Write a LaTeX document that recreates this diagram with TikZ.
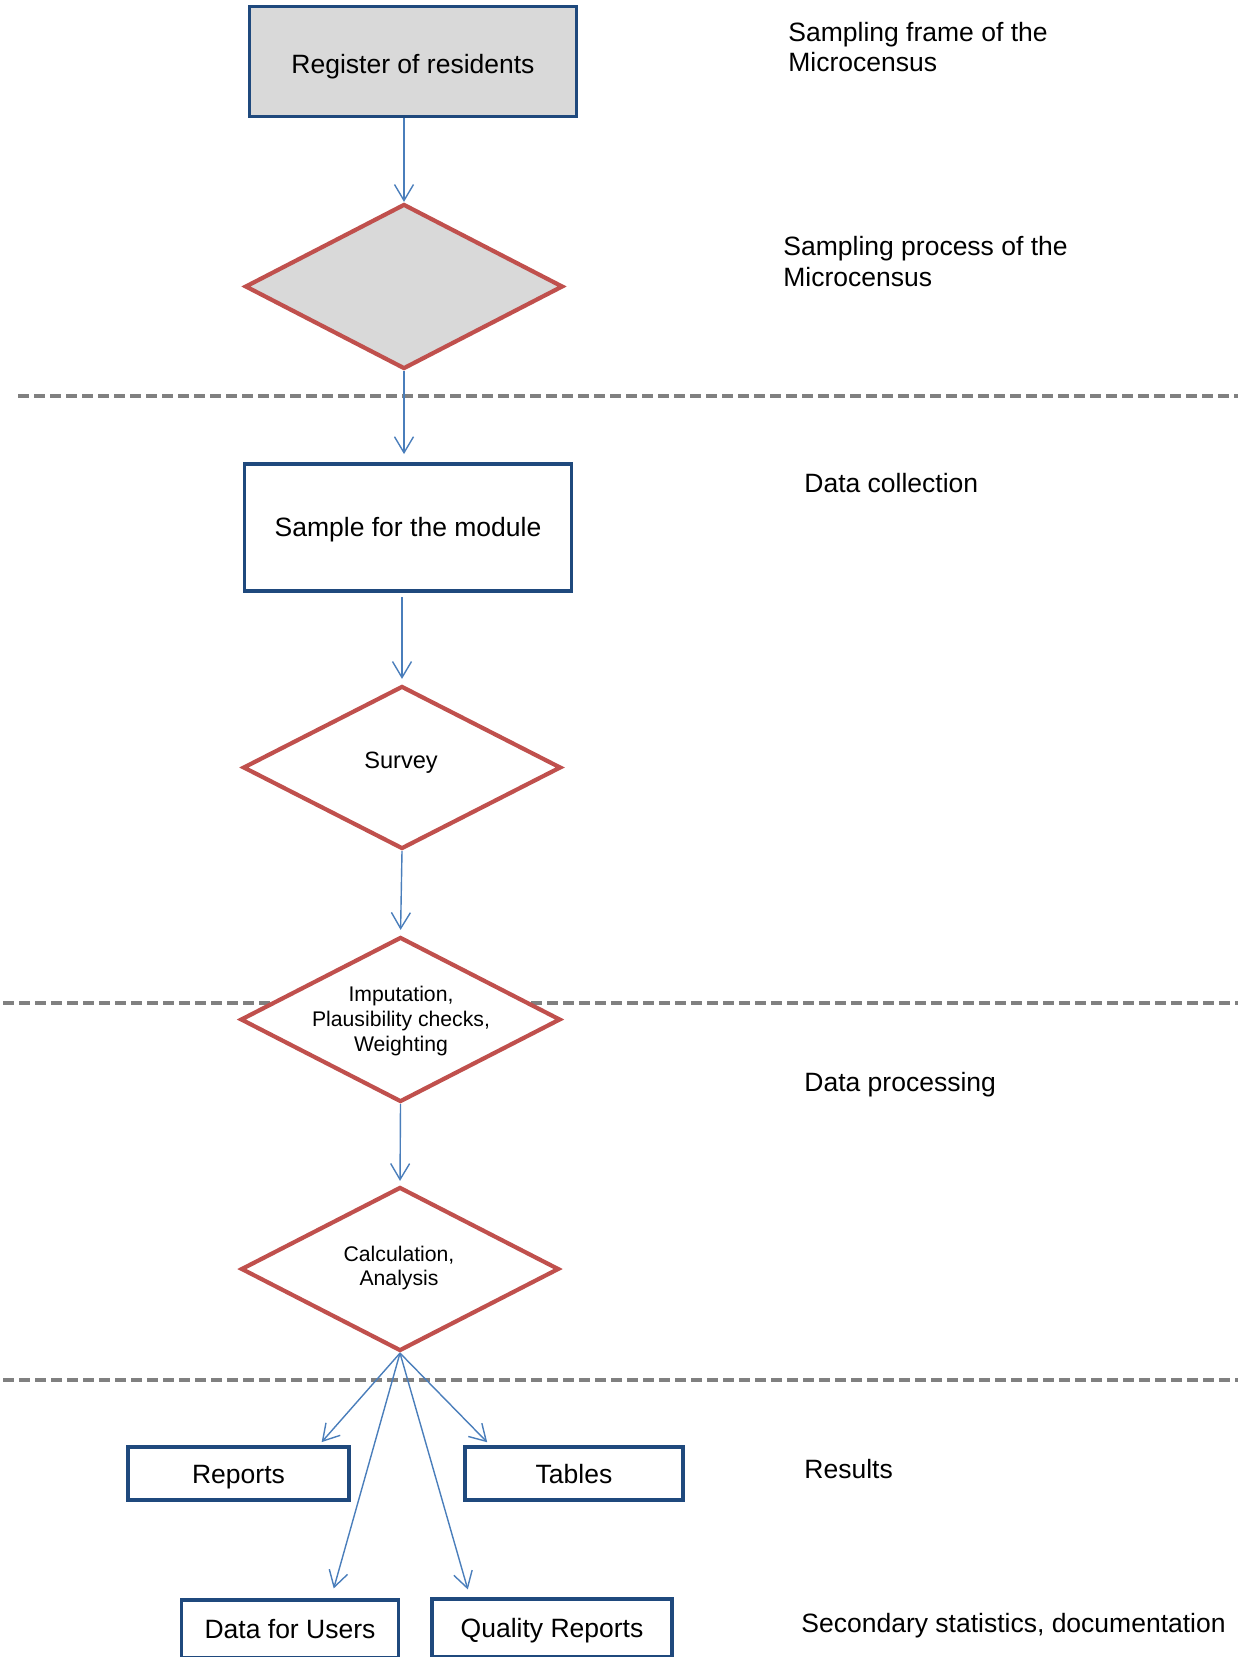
\documentclass[tikz,border=0pt]{standalone}
\usepackage{fontspec}
\setmainfont{Liberation Sans}
\usetikzlibrary{shapes.geometric,arrows.meta,calc}
\definecolor{boxblue}{HTML}{1F497D}
\definecolor{dred}{HTML}{C0504D}
\definecolor{arrblue}{HTML}{4A7EBB}
\definecolor{dgray}{HTML}{808080}
\definecolor{lgray}{HTML}{D9D9D9}
\begin{document}
\begin{tikzpicture}[x=0.5pt,y=-0.5pt,
 box/.style={draw=boxblue,line width=1.9pt,rectangle,inner sep=0pt,text height=9.5pt,text depth=0pt,font=\fontsize{13.25}{15}\selectfont},
 dia/.style={draw=dred,line width=2.1pt,diamond,inner sep=0pt,fill=white},
 arr/.style={draw=arrblue,line width=0.7pt,-{Straight Barb[length=8pt,width=9.5pt]}},
 sep/.style={draw=dgray,line width=1.7pt,dash pattern=on 5.3pt off 2.7pt},
 lbl/.style={font=\fontsize{13.25}{15.2}\selectfont,align=left,anchor=west,inner sep=0pt},
 dtxt/.style={font=\fontsize{10.6}{12.3}\selectfont,align=center,inner sep=0pt}]
\useasboundingbox (0,0) rectangle (1238,1657);
\clip (0,0) rectangle (1238,1657);
% separators
\draw[sep] (18,396) -- (1238,396);
\draw[sep] (3,1003) -- (1238,1003);
\draw[sep] (3,1380) -- (1238,1380);
% nodes
\node[box,fill=lgray,minimum width=163.5pt,minimum height=55pt,text height=12.5pt] (reg) at (413,61.5) {Register of residents};
\node[dia,fill=lgray,minimum width=159pt,minimum height=82.5pt] (d1) at (404,286.5) {};
\node[box,minimum width=163.5pt,minimum height=63.5pt] (sample) at (408,527.5) {Sample for the module};
\node[dia,minimum width=159pt,minimum height=81.5pt] (d2) at (402,767.5) {};
\node[dtxt,font=\fontsize{11.8}{13}\selectfont] (t2) at (401,763) {Survey};
\node[dia,minimum width=160pt,minimum height=82.5pt] (d3) at (400.5,1019.5) {};
\node[dtxt] (t3) at (401,1021) {Imputation,\\Plausibility checks,\\Weighting};
\node[dia,minimum width=159pt,minimum height=82pt] (d4) at (400,1269) {};
\node[dtxt] (t4) at (399,1268) {Calculation,\\Analysis};
\node[box,minimum width=110.5pt,minimum height=26.5pt] (reports) at (238.5,1473.5) {Reports};
\node[box,minimum width=109pt,minimum height=26.5pt] (tables) at (574,1473.5) {Tables};
\node[box,minimum width=108.5pt,minimum height=29pt] (dfu) at (290,1629) {Data for Users};
\node[box,minimum width=120pt,minimum height=29pt] (qr) at (552,1628) {Quality Reports};
% right labels
\node[lbl] (l1) at (788,47) {Sampling frame of the\\Microcensus};
\node[lbl] (l2) at (783,261.5) {Sampling process of the\\Microcensus};
\node[lbl] (l3) at (804,483) {Data collection};
\node[lbl] (l4) at (804,1085) {Data processing};
\node[lbl] (l5) at (804,1469) {Results};
\node[lbl] (l6) at (801,1626) {Secondary statistics, documentation};
% arrows
\draw[arr] (d1.north |- reg.south) -- (d1.north);
\draw[arr,shorten >=4pt] (d1.south) -- (d1.south |- sample.north);
\draw[arr,shorten <=2pt,shorten >=2.5pt] (d2.north |- sample.south) -- (d2.north);
\draw[arr,shorten >=2.5pt] (d2.south) -- (d3.north);
\draw[arr,shorten >=2pt] (d3.south) -- (d4.north);
\draw[arr,shorten >=2pt] (d4.south) -- ($(reports.north)+(80.5,0)$);
\draw[arr,shorten >=2pt] (d4.south) -- ($(tables.north)+(-84,0)$);
\draw[arr,shorten >=5pt] (d4.south) -- ($(dfu.north)+(41,0)$);
\draw[arr,shorten >=4pt] (d4.south) -- ($(qr.north)+(-82,0)$);
\end{tikzpicture}
\end{document}
